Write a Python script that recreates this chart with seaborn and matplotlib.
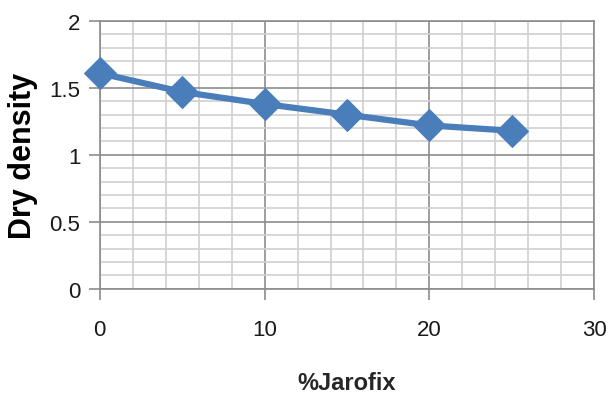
import matplotlib
matplotlib.use("Agg")
import matplotlib.pyplot as plt
import seaborn as sns
import pandas as pd
from matplotlib.ticker import MultipleLocator

# data
jarofix = [0, 5, 10, 15, 20, 25]
dry_density = [1.61, 1.47, 1.38, 1.30, 1.22, 1.18]

df = pd.DataFrame({"jarofix": jarofix, "dry_density": dry_density})

sns.set_style("white")
plt.rcParams['font.family'] = ['Liberation Sans', 'DejaVu Sans']

fig = plt.figure(figsize=(6.12, 4.14), dpi=100)
ax = fig.add_axes([0.163, 0.30, 0.808, 0.647])

sns.lineplot(data=df, x="jarofix", y="dry_density", ax=ax, color="#4a7ebb",
             linewidth=4.5, marker="D", markersize=16, markeredgecolor="#4a7ebb",
             clip_on=False, zorder=5)

ax.set_xlim(0, 30)
ax.set_ylim(0, 2)
ax.xaxis.set_major_locator(MultipleLocator(10))
ax.xaxis.set_minor_locator(MultipleLocator(2))
ax.yaxis.set_major_locator(MultipleLocator(0.5))
ax.yaxis.set_minor_locator(MultipleLocator(0.1))
ax.set_yticks([0, 0.5, 1, 1.5, 2])
ax.set_yticklabels(["0", "0.5", "1", "1.5", "2"])

ax.grid(which="major", color="#8c8c8c", linewidth=1.2)
ax.grid(which="minor", color="#d0d0d0", linewidth=1.2)
ax.set_axisbelow(True)

for s in ax.spines.values():
    s.set_color("#8c8c8c")
    s.set_linewidth(1.2)

ax.tick_params(axis="both", which="major", direction="out", length=8, width=1.2,
               color="#8c8c8c", labelsize=16, labelcolor="#1a1a1a",
               left=True, bottom=True)
ax.tick_params(axis="x", which="major", pad=14)
ax.tick_params(axis="y", which="major", pad=6)
ax.tick_params(which="minor", length=0)

ax.set_xlabel("%Jarofix", fontsize=17, fontweight="bold", labelpad=22)
ax.set_ylabel("Dry density", fontsize=22, fontweight="bold", labelpad=8,
              color="black")

fig.savefig("out.png", dpi=100)
